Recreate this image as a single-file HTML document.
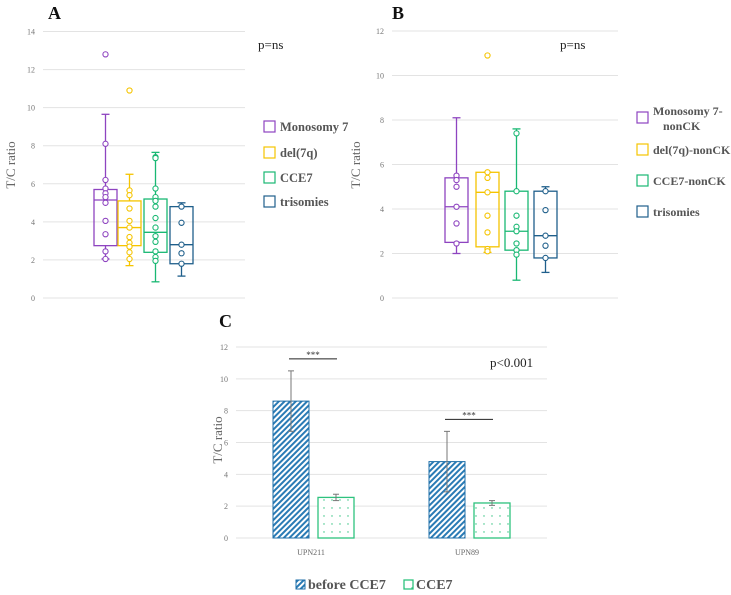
<!DOCTYPE html>
<html><head><meta charset="utf-8"><style>
body{margin:0;background:#fff;}
svg{display:block;font-family:"Liberation Serif",serif;}
</style></head><body>
<svg id="fig" width="731" height="595" viewBox="0 0 731 595" xmlns="http://www.w3.org/2000/svg">
<defs>
<pattern id="hatch" width="4" height="4" patternUnits="userSpaceOnUse" patternTransform="rotate(45)">
<rect width="4" height="4" fill="#fff"/><rect width="2" height="4" fill="#2a7bb5"/></pattern>
<pattern id="dots" width="8" height="8" patternUnits="userSpaceOnUse">
<rect width="8" height="8" fill="#fff"/><circle cx="4" cy="4" r="0.7" fill="#2ec27e"/></pattern>
</defs>
<g id="A"></g>
<g id="B"></g>
<g id="C"></g>
</svg>
<script>
const groupsA=["Monosomy 7","del(7q)","CCE7","trisomies"];
const groupsB=["Monosomy 7-|nonCK","del(7q)-nonCK","CCE7-nonCK","trisomies"];
const colors=["#8e44c0","#f5c400","#19b873","#1f5f8b"];
const statsA=[[2.05,2.75,5.15,5.7,9.65],[1.7,2.75,3.7,5.1,6.5],[0.85,2.4,3.45,5.2,7.65],[1.15,1.8,2.8,4.8,5.0]];
const pointsA=[[12.8,8.1,6.2,5.75,5.5,5.3,5.0,4.05,3.35,2.45,2.05],[10.9,5.65,5.4,4.7,4.05,3.7,3.2,2.9,2.7,2.4,2.05],[7.4,7.35,5.75,5.3,5.1,4.8,4.2,3.7,3.25,2.95,2.45,2.15,1.95],[4.8,3.95,2.8,2.35,1.8]];
const statsB=[[2.0,2.5,4.1,5.4,8.1],[2.05,2.3,4.75,5.65,5.65],[0.8,2.15,3.0,4.8,7.6],[1.15,1.8,2.8,4.8,5.0]];
const pointsB=[[5.5,5.3,5.0,4.1,3.35,2.45],[10.9,5.65,5.4,4.75,3.7,2.95,2.2,2.1],[7.4,4.8,3.7,3.2,3.0,2.45,2.15,1.95],[4.8,3.95,2.8,2.35,1.8]];
const ticksA=[0,2,4,6,8,10,12,14];
const ticksB=[0,2,4,6,8,10,12];
const ticksC=[0,2,4,6,8,10,12];
const catsC=["UPN211","UPN89"];
const beforeC=[8.6,4.8];
const beforeErr=[1.9,1.9];
const afterC=[2.55,2.2];
const afterErr=[0.2,0.15];
const NS="http://www.w3.org/2000/svg";
function mk(p,t,a,txt){const e=document.createElementNS(NS,t);for(const k in a)e.setAttribute(k,a[k]);if(txt!=null)e.textContent=txt;p.appendChild(e);return e;}

function boxPanel(g,o){
 const y=v=>o.y0-(v/o.max)*(o.y0-o.yTop);
 o.ticks.forEach(t=>{
  const l=mk(g,'line',{x1:o.gx0,x2:o.gx1,y1:y(t),y2:y(t),stroke:'#e3e3e3','stroke-width':1});
  
  
  const tx=mk(g,'text',{x:o.gx0-8,y:y(t)+3,'font-size':8,fill:'#777','text-anchor':'end'},t);
  
  
 });
 const yl=mk(g,'text',{x:o.ylx,y:165,'font-size':13,fill:'#666','text-anchor':'middle',transform:`rotate(-90 ${o.ylx} 165)`},'T/C ratio');
 
 
 const ti=mk(g,'text',{x:o.lx,y:19,'font-size':18,'font-weight':'bold',fill:'#111'},o.letter);
 
 
 const p=mk(g,'text',{x:o.px,y:49,'font-size':13,fill:'#222'},'p=ns');
 
 
 o.stats.forEach((s,i)=>{
  const x0=o.bx[i],w=o.bw,cx=x0+w/2,c=colors[i];
  const bg=mk(g,'g',{});
  
  
  mk(bg,'line',{x1:cx,x2:cx,y1:y(s[4]),y2:y(s[3]),stroke:c,'stroke-width':1.3});
  mk(bg,'line',{x1:cx,x2:cx,y1:y(s[1]),y2:y(s[0]),stroke:c,'stroke-width':1.3});
  mk(bg,'line',{x1:cx-4,x2:cx+4,y1:y(s[4]),y2:y(s[4]),stroke:c,'stroke-width':1.3});
  mk(bg,'line',{x1:cx-4,x2:cx+4,y1:y(s[0]),y2:y(s[0]),stroke:c,'stroke-width':1.3});
  mk(bg,'rect',{x:x0,y:y(s[3]),width:w,height:y(s[1])-y(s[3]),fill:'none',stroke:c,'stroke-width':1.3});
  mk(bg,'line',{x1:x0,x2:x0+w,y1:y(s[2]),y2:y(s[2]),stroke:c,'stroke-width':1.3});
  o.points[i].forEach(v=>{
   const d=mk(bg,'circle',{cx:cx,cy:y(v),r:2.6,fill:'#fff',stroke:c,'stroke-width':1.1});
   
   
  });
  const le=mk(g,'g',{});
  
  
  mk(le,'rect',{x:o.legX,y:o.legY[i]-6,width:11,height:11,fill:'none',stroke:c,'stroke-width':1.2});
  const lines=o.names[i].split('|');
  lines.forEach((ln,j)=>mk(le,'text',{x:o.legX+16+(j?10:0),y:o.legY[i]+4+j*15-(lines.length>1?7:0),'font-size':o.fs,'font-weight':'bold',fill:'#555'},ln));
 });
}
boxPanel(document.getElementById('A'),{y0:298,yTop:31.5,max:14,ticks:ticksA,gx0:43,gx1:245,ylx:15,lx:48,letter:'A',px:258,stats:statsA,points:pointsA,bx:[94,118,144,170],bw:23,legX:264,legY:[127,153,178,202],names:groupsA,fs:12.5});
boxPanel(document.getElementById('B'),{y0:298,yTop:31,max:12,ticks:ticksB,gx0:392,gx1:618,ylx:360,lx:392,letter:'B',px:560,stats:statsB,points:pointsB,bx:[445,476,505,534],bw:23,legX:637,legY:[118,150,181,212],names:groupsB,fs:12});
(function(){
 const C=document.getElementById('C');
 const y=v=>538-(v/12)*(538-347);
 ticksC.forEach(t=>{
  const l=mk(C,'line',{x1:236,x2:547,y1:y(t),y2:y(t),stroke:'#e3e3e3','stroke-width':1});
  
  
  const tx=mk(C,'text',{x:228,y:y(t)+3,'font-size':8,fill:'#777','text-anchor':'end'},t);
  
  
 });
 const yl=mk(C,'text',{x:222,y:440,'font-size':13,fill:'#666','text-anchor':'middle',transform:'rotate(-90 222 440)'},'T/C ratio');
 
 
 const ti=mk(C,'text',{x:219,y:327,'font-size':18,'font-weight':'bold',fill:'#111'},'C');
 
 
 const p=mk(C,'text',{x:490,y:367,'font-size':13,fill:'#222'},'p<0.001');
 
 
 const centers=[313,469];
 catsC.forEach((c,i)=>{
  const cx=centers[i];
  const b1=mk(C,'rect',{x:cx-40,y:y(beforeC[i]),width:36,height:y(0)-y(beforeC[i]),fill:'url(#hatch)',stroke:'#1f6fa8','stroke-width':1});
  
  
  const b2=mk(C,'rect',{x:cx+5,y:y(afterC[i]),width:36,height:y(0)-y(afterC[i]),fill:'url(#dots)',stroke:'#2ec27e','stroke-width':1.3});
  
  
  [[cx-22,beforeC[i],beforeErr[i]],[cx+23,afterC[i],afterErr[i]]].forEach(([x,v,e])=>{
   const eg=mk(C,'g',{stroke:'#777','stroke-width':1});
   
   
   mk(eg,'line',{x1:x,x2:x,y1:y(v+e),y2:y(v-e)});
   mk(eg,'line',{x1:x-3,x2:x+3,y1:y(v+e),y2:y(v+e)});
   mk(eg,'line',{x1:x-3,x2:x+3,y1:y(v-e),y2:y(v-e)});
  });
  const lab=mk(C,'text',{x:cx-2,y:555,'font-size':8,fill:'#666','text-anchor':'middle'},c);
  
  
  const top=Math.max(beforeC[i]+beforeErr[i],afterC[i]+afterErr[i])+0.5;
  const sg=mk(C,'g',{});
  
  
  mk(sg,'line',{x1:cx-24,x2:cx+24,y1:y(top)-4,y2:y(top)-4,stroke:'#222','stroke-width':1});
  mk(sg,'text',{x:cx,y:y(top)-5,'font-size':9,fill:'#333','text-anchor':'middle'},'***');
 });
 const l1=mk(C,'g',{});
 
 
 mk(l1,'rect',{x:296,y:580,width:9,height:9,fill:'url(#hatch)',stroke:'#1f6fa8'});
 mk(l1,'text',{x:308,y:589,'font-size':14,'font-weight':'bold',fill:'#555'},'before CCE7');
 const l2=mk(C,'g',{});
 
 
 mk(l2,'rect',{x:404,y:580,width:9,height:9,fill:'url(#dots)',stroke:'#2ec27e','stroke-width':1.3});
 mk(l2,'text',{x:416,y:589,'font-size':14,'font-weight':'bold',fill:'#555'},'CCE7');
})();
</script>
</body></html>
